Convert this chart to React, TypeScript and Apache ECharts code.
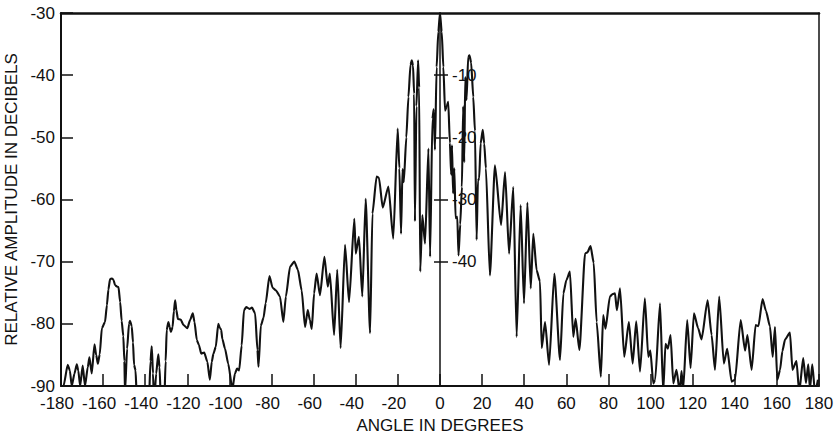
import React, { useEffect, useRef } from "react";
import * as echarts from "echarts";

// Measured far-field pattern: angle (degrees) and relative amplitude (dB)
const angles = [
  -180, -178.8, -176.8, -175.8, -174.9, -173.6, -172.5, -171.8, -170.9, -169.7,
  -168.6, -167.3, -166.5, -165.4, -164.1, -163.3, -162.5, -161.6, -160.6, -159.1,
  -158.2, -157.5, -156.7, -155.8, -155.1, -154.3, -153.4, -152.7, -151.9, -151.2,
  -150.4, -149.9, -149.6, -148.6, -147.7, -147.2, -146.4, -145.8, -145.3, -144.6,
  -144.1, -142, -138.3, -137.5, -136.9, -136.3, -135.8, -134.8, -133.8, -133.2,
  -132.5, -131, -130.3, -129.8, -129.0, -128.4, -127.8, -127.0, -126.4, -125.8,
  -125.2, -124.5, -123.2, -121.8, -120.0, -118.7, -117.4, -116.6, -115.5, -114.5,
  -113.4, -112.0, -110.5, -109.3, -108.4, -107.6, -106.5, -105.3, -104.5, -103.9,
  -103.4, -102.1, -100.6, -98.6, -97.4, -96.4, -95.4, -94.2, -93.1, -92.0,
  -90.5, -89.3, -87.8, -86.7, -86.2, -85.1, -83.8, -82.8, -81.0, -79.5,
  -78.0, -76.0, -74.4, -73.2, -71.2, -69.2, -67.5, -65.7, -64.1, -62.8,
  -61.8, -60.9, -59.8, -58.6, -57.0, -54.9, -53.3, -52.3, -50.3, -48.8,
  -47.2, -45.1, -43.2, -40.7, -40.0, -38.5, -36.9, -35.3, -33.2, -32.1,
  -30.1, -29.0, -27.2, -24.5, -22.2, -20.1, -19.3, -18.5, -17.8, -17.2,
  -16.0, -15.0, -14.0, -13.4, -12.8, -12.3, -11.9, -11.2, -10.4, -9.9,
  -9.4, -8.4, -7.1, -5.5, -4.7, -3.6, -3.0, -2.4, -1.6, -0.8,
  0, 0.8, 1.6, 2.4, 3.2, 3.9, 4.7, 5.3, 5.7, 6.2,
  6.8, 7.4, 8.2, 8.8, 9.6, 10.4, 11.0, 11.5, 12.0, 12.6,
  13.4, 14.0, 14.8, 15.8, 16.6, 17.4, 18.0, 18.6, 19.3, 20.3,
  21.0, 21.8, 23.7, 26.1, 29.0, 30.9, 32.8, 34.8, 36.4, 38.3,
  39.9, 41.5, 43.1, 44.3, 45.9, 47.5, 48.3, 49.9, 51.8, 54.3,
  57.0, 58.6, 60.0, 61.7, 63.3, 64.4, 66.2, 68.9, 70.0, 71.5,
  73.0, 74.4, 76.4, 77.5, 78.6, 80.7, 82.0, 83.1, 84.0, 85.5,
  87.5, 89.7, 91.5, 93.2, 95.0, 97.3, 98.9, 99.9, 101.3, 102.2,
  104.5, 106.0, 107.1, 108.2, 109.5, 110.8, 112.3, 113.9, 114.7, 115.5,
  117.4, 119.0, 120.6, 122.6, 124.2, 127.1, 129.0, 130.6, 132.6, 134.8,
  136.4, 138.5, 140.1, 142.8, 144.9, 146.0, 148.0, 149.9, 151.2, 153.2,
  154.8, 156.7, 158.0, 159.1, 160.2, 161.5, 162.6, 163.9, 166.2, 167.4,
  169.3, 170.6, 172.5, 173.8, 174.9, 175.7, 176.8, 178.1, 179.5,
];

const levels = [
  -93, -90, -86.6, -87.5, -90, -88, -86.5, -87.5, -90, -86.7,
  -90, -87, -85.4, -88.0, -83.3, -85, -86.4, -84.9, -80.7, -79.7,
  -77, -74.5, -72.8, -72.7, -72.9, -73.8, -74, -74.1, -76.5, -79.5,
  -82, -86, -91, -84, -80, -79.5, -80.4, -83, -86.6, -87.5,
  -91, -93, -93, -86, -83.6, -88, -93, -88, -84.9, -87,
  -93, -93, -86, -81.0, -79.7, -80.5, -81.3, -80.5, -78, -76.2,
  -77.8, -79.2, -79.3, -80.2, -80.7, -79.4, -78.3, -79.7, -82.6, -83.4,
  -84.8, -84.6, -86.1, -89.0, -86.1, -84.8, -83.7, -80.0, -80.7, -81.0,
  -82.4, -84.0, -86.4, -90.5, -88.0, -87.2, -87.5, -83.5, -77.8, -77.3,
  -77.6, -77.4, -78.3, -84.2, -86.9, -80.3, -79.0, -76.7, -72.3, -74.2,
  -74.6, -75.6, -79.7, -75.6, -70.8, -70.0, -71.3, -74.6, -80.5, -77.8,
  -79.4, -80.8, -75.1, -71.9, -75.4, -69.2, -74.0, -71.9, -81.8, -71.3,
  -83.9, -67.3, -76.5, -63.1, -68.7, -66.0, -75.6, -59.9, -81.5, -62.3,
  -56.3, -56.5, -61.3, -57.9, -66.3, -48.6, -55.0, -65.5, -55.1, -57.2,
  -50.0, -43.5, -38.3, -37.6, -38.5, -43, -63.5, -45, -37.6, -42,
  -71.6, -62.5, -67.1, -51.8, -69.2, -47, -45.5, -52, -38.7, -33,
  -30, -33, -38.7, -45.7, -45, -44.3, -50.9, -56, -51.3, -59,
  -55, -63, -62.8, -69, -64, -58, -45, -54, -40.3, -44,
  -37, -36.8, -38, -43.5, -49, -66.5, -57, -56.6, -51, -48.8,
  -51, -55, -72.2, -54.5, -64.1, -55.6, -68.7, -58.0, -82.1, -60.9,
  -76.7, -60.5, -74.3, -65.5, -71.4, -73.2, -83.9, -79.7, -86.6, -71.9,
  -85.8, -75.1, -73, -71.6, -82.1, -79.2, -84.2, -68.7, -68.5, -67.5,
  -70.2, -79.7, -88.5, -78.6, -80.8, -75.6, -75.2, -75.1, -77.8, -74.3,
  -85.3, -79.7, -86.4, -79.6, -87.7, -75.9, -85.3, -84.3, -89.6, -89,
  -76.7, -91, -83.2, -84, -81.8, -89.6, -87.4, -91, -87.6, -90.5,
  -79.4, -87.1, -78.3, -80.7, -82.5, -76.2, -81.8, -87.4, -75.6, -86.4,
  -84.0, -89.3, -89, -79.4, -84.3, -81.8, -87.4, -80.2, -80.4, -76.0,
  -77.9, -80.4, -85.3, -80.5, -89.0, -87.4, -84.4, -82.5, -81.4, -87.4,
  -86.0, -91, -85.5, -89.5, -86.5, -90.5, -86.5, -91, -89,
];

// Relative-level scale drawn on the 0° line (main scale + 30 dB)
const innerTicks = [-10, -20, -30, -40];

const FONT = "'Liberation Sans', Arial, Helvetica, sans-serif";
const INK = "#111";
const GRID_LEFT = 61;
const GRID_WIDTH = 758;

export default function App() {
  const ref = useRef<HTMLDivElement>(null);

  useEffect(() => {
    if (!ref.current) return;
    const chart = echarts.init(ref.current, undefined, { renderer: "svg" });
    const data = angles.map((a, i) => [a, levels[i]]);

    chart.setOption({
      animation: false,
      backgroundColor: "#fff",
      grid: {
        left: GRID_LEFT,
        top: 13,
        width: GRID_WIDTH,
        height: 373,
        containLabel: false,
        outerBoundsMode: "none",
      },
      xAxis: [
        {
          type: "value",
          min: -180,
          max: 180,
          interval: 20,
          position: "bottom",
          name: "ANGLE IN DEGREES",
          nameLocation: "middle",
          nameGap: 28,
          nameTextStyle: { fontFamily: FONT, fontSize: 17, color: INK },
          axisLine: { show: true, onZero: false, lineStyle: { color: INK, width: 2 } },
          axisTick: { show: true, inside: true, length: 12, lineStyle: { color: INK, width: 1.5 } },
          axisLabel: {
            show: true,
            margin: 9,
            showMinLabel: true,
            showMaxLabel: true,
            fontFamily: FONT,
            fontSize: 17,
            color: INK,
            formatter: (v: number) => (v < 0 ? `{n|${v}}` : `${v}`),
            rich: {
              n: { fontFamily: FONT, fontSize: 17, color: INK, padding: [0, 8, 0, 0] },
            },
          },
          splitLine: { show: false },
        },
        {
          type: "value",
          min: -180,
          max: 180,
          position: "top",
          axisLine: { show: true, onZero: false, lineStyle: { color: INK, width: 2.5 } },
          axisTick: { show: false },
          axisLabel: { show: false },
          splitLine: { show: false },
        },
      ],
      yAxis: [
        {
          type: "value",
          min: -90,
          max: -30,
          interval: 10,
          position: "left",
          name: "RELATIVE AMPLITUDE IN DECIBELS",
          nameLocation: "middle",
          nameGap: 38,
          nameTextStyle: { fontFamily: FONT, fontSize: 17, color: INK },
          axisLine: { show: true, onZero: false, lineStyle: { color: INK, width: 2 } },
          axisTick: { show: true, inside: true, length: 12, lineStyle: { color: INK, width: 1.5 } },
          axisLabel: { margin: 6, fontFamily: FONT, fontSize: 17, color: INK },
          splitLine: { show: false },
        },
        {
          type: "value",
          min: -90,
          max: -30,
          position: "right",
          axisLine: { show: true, onZero: false, lineStyle: { color: INK, width: 1.5 } },
          axisTick: { show: false },
          axisLabel: { show: false },
          splitLine: { show: false },
        },
        {
          // scale along the 0° line, right-hand ticks and labels
          type: "value",
          min: -60,
          max: 0,
          position: "left",
          offset: -GRID_WIDTH / 2,
          axisLine: { show: true, onZero: false, lineStyle: { color: INK, width: 1.5 } },
          axisTick: {
            show: true,
            inside: true,
            length: 8,
            customValues: innerTicks,
            lineStyle: { color: INK, width: 1.5 },
          },
          axisLabel: {
            show: true,
            inside: true,
            margin: 12,
            customValues: innerTicks,
            fontFamily: FONT,
            fontSize: 17,
            color: INK,
          },
          splitLine: { show: false },
        },
        {
          // left-hand half of the ticks on the 0° line
          type: "value",
          min: -60,
          max: 0,
          position: "left",
          offset: -GRID_WIDTH / 2,
          axisLine: { show: false, onZero: false },
          axisTick: {
            show: true,
            inside: false,
            length: 6,
            customValues: innerTicks,
            lineStyle: { color: INK, width: 1.5 },
          },
          axisLabel: { show: false },
          splitLine: { show: false },
        },
      ],
      series: [
        {
          type: "line",
          xAxisIndex: 0,
          yAxisIndex: 0,
          data,
          showSymbol: false,
          symbol: "none",
          clip: true,
          smooth: 0.2,
          smoothMonotone: "x",
          lineStyle: { color: INK, width: 2.1 },
          emphasis: { disabled: true },
        },
      ],
    });

    return () => chart.dispose();
  }, []);

  return (
    <div
      ref={ref}
      style={{ position: "fixed", left: 0, top: 0, width: 834, height: 437, background: "#fff" }}
    />
  );
}
